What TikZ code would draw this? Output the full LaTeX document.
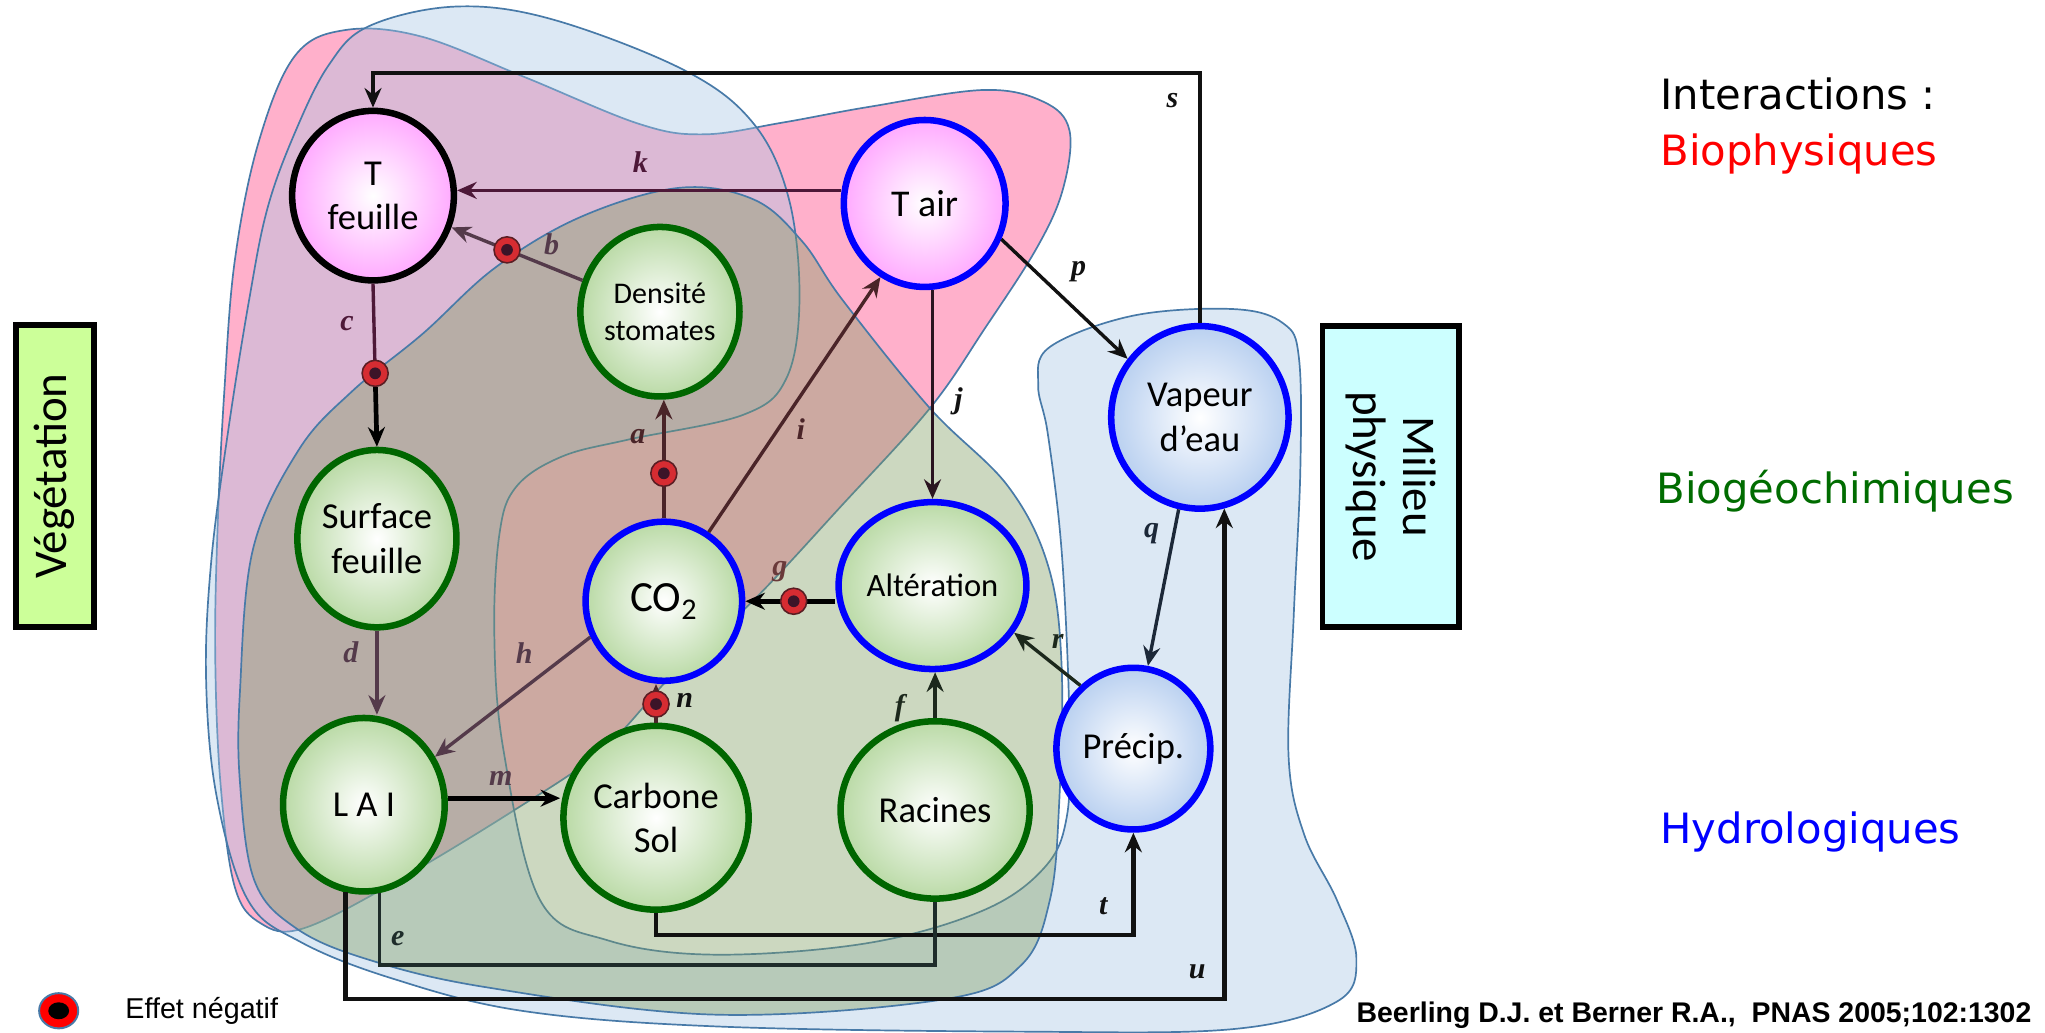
\documentclass[tikz,border=0pt]{standalone}
\usepackage{fontspec}
\usetikzlibrary{shapes.geometric,arrows.meta,calc}
\newfontfamily\carl{Carlito}
\newfontfamily\dejav{DejaVu Sans}
\newfontfamily\libsans{Liberation Sans}
\newfontfamily\libserif{Liberation Serif}
\definecolor{pinkF}{RGB}{255,58,125}
\definecolor{blueF}{RGB}{168,198,228}
\definecolor{greenF}{RGB}{128,158,98}
\definecolor{outl}{RGB}{72,122,168}
\definecolor{gnode}{RGB}{186,218,166}
\definecolor{pnode}{RGB}{255,170,255}
\definecolor{bnode}{RGB}{185,208,240}
\definecolor{dgreen}{RGB}{0,102,0}
\definecolor{vegc}{RGB}{204,255,153}
\definecolor{milc}{RGB}{204,255,255}
\definecolor{negred}{RGB}{214,44,50}
\definecolor{negdark}{RGB}{90,30,36}
\definecolor{negdot}{RGB}{60,20,40}
\definecolor{cmaroon}{RGB}{77,24,56}
\definecolor{cmauve}{RGB}{84,58,74}
\definecolor{cbrown}{RGB}{74,36,40}
\definecolor{cbrownl}{RGB}{106,58,58}
\definecolor{cnavy}{RGB}{28,40,56}
\definecolor{cdgreen}{RGB}{28,40,28}
\definecolor{cteal}{RGB}{30,44,42}
\definecolor{cj}{RGB}{42,20,32}
\definecolor{bgreen}{RGB}{0,108,0}
\definecolor{nearblack}{RGB}{17,17,17}

\tikzset{
  ov/.style={fill opacity=0.4, draw=outl, line width=1.3pt},
  base/.style={ellipse, inner sep=0pt, align=center, text=black,
    font=\carl\fontsize{28}{34}\selectfont, inner color=white, line width=5pt},
  grn/.style={base, draw=dgreen, outer color=gnode},
  blu/.style={base, draw=blue, outer color=gnode},
  hyd/.style={base, draw=blue, outer color=bnode},
  tmp/.style={base, outer color=pnode},
  arr/.style={-{Stealth[length=15pt,width=13pt,inset=5pt]}},
  lwa/.style={line width=2.6pt},
  lwb/.style={line width=3.6pt},
  negmark/.style={circle, minimum size=20pt, inner sep=0pt, fill=negred, draw=negdark, line width=1.2pt,
    path picture={\fill[negdot] (path picture bounding box.center) circle (4.5pt);}},
  lbl/.style={font=\libserif\bfseries\itshape\fontsize{23}{25}\selectfont, inner sep=0pt},
  side/.style={anchor=base west, inner sep=0pt, font=\dejav\fontsize{32}{36}\selectfont},
}

\begin{document}
\begin{tikzpicture}[x=1pt,y=-1pt]
\useasboundingbox (0,0) rectangle (1568,792);

% ---- overlay regions
\path[ov, fill=pinkF] plot[smooth cycle, tension=0.6] coordinates {(226,43) (265,23) (323,28) (402,59) (490,95) (540,103) (600,94) (666,82) (754,69) (800,78) (820,100) (815,145) (795,190) (755,252) (713,313) (645,388) (578,460) (516,517) (462,575) (393,622) (300,678) (232,712) (200,708) (180,680) (169,600) (165,500) (167,400) (172,300) (180,200) (198,110)};

\path[ov, fill=blueF] plot[smooth cycle, tension=0.6] coordinates {(191,230) (205,160) (226,102) (252,50) (283,20) (350,5) (424,15) (525,54) (578,95) (605,153) (613,230) (603,290) (570,318) (482,337) (431,350) (396,373) (383,409) (379,486) (386,575) (414,690) (466,721) (549,732) (666,723) (754,698) (801,665) (818,626) (820,560) (817,471) (812,400) (803,330) (796,295) (805,266) (869,242) (946,237) (984,248) (996,275) (997,361) (992,471) (988,580) (1000,640) (1025,690) (1040,735) (1025,768) (946,789) (784,791) (549,787) (400,775) (300,750) (230,722) (190,690) (166,610) (158,520) (162,430) (175,330)};

\path[ov, fill=greenF] plot[smooth cycle, tension=0.6] coordinates {(521,144) (578,153) (615,185) (646,230) (713,313) (773,373) (804,435) (814,511) (812,618) (805,690) (783,740) (725,766) (549,778) (373,757) (280,735) (226,711) (195,675) (184,600) (184,530) (194,421) (229,345) (270,300) (324,256) (380,205) (446,166)};

% ---- nodes
\node[tmp, draw=black, minimum width=124pt, minimum height=130pt] (tf) at (286,150) {T\\feuille};
\node[grn, minimum width=122pt, minimum height=130pt, font=\carl\fontsize{23}{28}\selectfont] (ds) at (506,239) {Densité\\stomates};
\node[tmp, draw=blue, minimum width=124pt, minimum height=128pt, font=\carl\fontsize{29}{34}\selectfont] (ta) at (709,156) {T air};
\node[hyd, minimum width=136pt, minimum height=140pt] (ve) at (920,320) {Vapeur\\d’eau};
\node[grn, minimum width=122pt, minimum height=136pt] (sf) at (289,413) {Surface\\feuille};
\node[blu, minimum width=120pt, minimum height=122pt, font=\carl\fontsize{33}{38}\selectfont] (co) at (509,461) {CO\textsubscript{2}};
\node[blu, minimum width=144pt, minimum height=128pt, font=\carl\fontsize{25}{30}\selectfont] (al) at (715,449) {Altération};
\node[hyd, minimum width=118pt, minimum height=124pt] (pr) at (869,574) {Précip.};
\node[grn, minimum width=124pt, minimum height=133pt] (lai) at (279,617) {L A I};
\node[grn, minimum width=142pt, minimum height=141pt] (cs) at (503,627) {Carbone\\Sol};
\node[grn, minimum width=145pt, minimum height=136pt] (ra) at (717,621) {Racines};

% ---- side boxes
\node[draw=black, line width=4.5pt, fill=vegc, rotate=90, minimum width=232pt, minimum height=60pt,
  inner sep=0pt, font=\carl\fontsize{36}{40}\selectfont] (veg) at (42,365) {Végétation};
\node[draw=black, line width=4.5pt, fill=milc, rotate=-90, minimum width=231pt, minimum height=105pt,
  inner sep=0pt, align=center, font=\carl\fontsize{36}{38}\selectfont] (mil) at (1066.5,365.5) {Milieu\\physique};

% ---- connectors
\draw[arr, lwb, draw=nearblack] (ve.north) -- (ve.north |- 0,56) -| (tf.north);
\draw[arr, lwa, draw=cmaroon] (ta.west |- 0,146) -- (tf.east |- 0,146);
\draw[arr, lwa, draw=cmauve] (ds) -- (tf);
\path (ds) -- coordinate[pos=0.576] (pb) (tf);
\path (tf.south) -- coordinate[pos=0.55] (pc) (sf.north);
\draw[lwa, draw=cmaroon] (tf.south) -- (pc);
\draw[arr, lwa, draw=cmauve] (sf.south) -- (sf.south |- lai.north);
\draw[arr, lwa, draw=cbrown] (co.north) -- (co.north |- ds.south);
\path (co.north) -- coordinate[pos=0.38] (pa) (co.north |- ds.south);
\draw[arr, lwa, draw=cbrown] (co.57) -- (ta.-121);
\draw[arr, lwa, draw=cmauve] (co.206) -- (lai.34);
\draw[arr, lwa, draw=cj] (al.north |- ta.south) -- (al.north);
\draw[arr, lwa, draw=nearblack] (ta.-25) -- (ve.141);
\draw[arr, lwb, draw=black] (al.west |- co.east) -- (co.east);
\path (al.west |- co.east) -- coordinate[pos=0.463] (pg) (co.east);
\draw[arr, lwa, draw=cdgreen] (pr.130) -- (al.-30);
\draw[arr, lwa, draw=cnavy] (ve.-103) -- (pr.80);
\draw[arr, lwa, draw=cdgreen] (ra.north) -- (ra.north |- al.south);
\draw[arr, lwa, draw=cbrown] (cs.north) -- (cs.north |- co.south);
\path (cs.north) -- coordinate[pos=0.48] (pn) (cs.north |- co.south);
\draw[arr, lwb, draw=black] (lai.east |- 0,612) -- (cs.west |- 0,612);
\draw[arr, lwb, draw=nearblack] (cs.south) -- (cs.south |- 0,717) -| (pr.south);
\draw[line width=3pt, draw=cteal] (lai.-80) -- (lai.-80 |- 0,740) -| (ra.south);
\draw[arr, lwb, draw=nearblack] (lai.-102) -- (lai.-102 |- 0,766) -| (ve.-75);

% ---- negative markers
\node[negmark] (mb) at (pb) {};
\node[negmark] (mc) at (pc) {};
\node[negmark] (ma) at (pa) {};
\node[negmark] (mg) at (pg) {};
\node[negmark] (mn) at (pn) {};
\draw[arr, lwb, draw=black] (mc) -- (sf.north);

% ---- edge labels
\node[lbl, text=nearblack] (ls) at (899,77) {s};
\node[lbl, text=cmaroon] (lk) at (491,124) {k};
\node[lbl, text=cmauve] (lb) at (423,187) {b};
\node[lbl, text=nearblack] (lp) at (827,208) {p};
\node[lbl, text=cmaroon] (lc) at (266,248) {c};
\node[lbl, text=nearblack] (lj) at (735,308) {j};
\node[lbl, text=cbrown] (la) at (489,335) {a};
\node[lbl, text=cbrown] (li) at (614,329) {i};
\node[lbl, text=cnavy] (lq) at (883,409) {q};
\node[lbl, text=cbrownl] (lg) at (598,438) {g};
\node[lbl, text=cdgreen] (lr) at (811,492) {r};
\node[lbl, text=cmauve] (lh) at (402,501) {h};
\node[lbl, text=cmauve] (ld) at (269,500) {d};
\node[lbl, text=nearblack] (ln) at (525,537) {n};
\node[lbl, text=cdgreen] (lf) at (690,543) {f};
\node[lbl, text=cmauve] (lm2) at (384,597) {m};
\node[lbl, text=nearblack] (lt) at (846,695) {t};
\node[lbl, text=cteal] (le) at (305,720) {e};
\node[lbl, text=nearblack] (lu) at (918,745) {u};

% ---- right-hand texts
\node[side, text=black] (tint) at (1273,84) {Interactions~:};
\node[side, text=red] (tbio) at (1273,127) {Biophysiques};
\node[side, text=bgreen] (tbgc) at (1270,386) {Biogéochimiques};
\node[side, text=blue] (thyd) at (1273,647) {Hydrologiques};

% ---- legend and reference
\node[ellipse, minimum width=30pt, minimum height=27pt, inner sep=0pt, fill=red, draw=outl, line width=1.5pt,
  path picture={\fill[black] (path picture bounding box.center) ellipse (8pt and 6.5pt);}] (lgm) at (45,775) {};
\node[anchor=base west, inner sep=0pt, font=\libsans\fontsize{22}{24}\selectfont] (lgt) at (96,781) {Effet négatif};
\node[anchor=base west, inner sep=0pt, font=\libsans\bfseries\fontsize{21.8}{24}\selectfont] (cite) at (1040,784) {Beerling D.J. et Berner R.A.,\ \ PNAS 2005;102:1302};
\end{tikzpicture}
\end{document}
